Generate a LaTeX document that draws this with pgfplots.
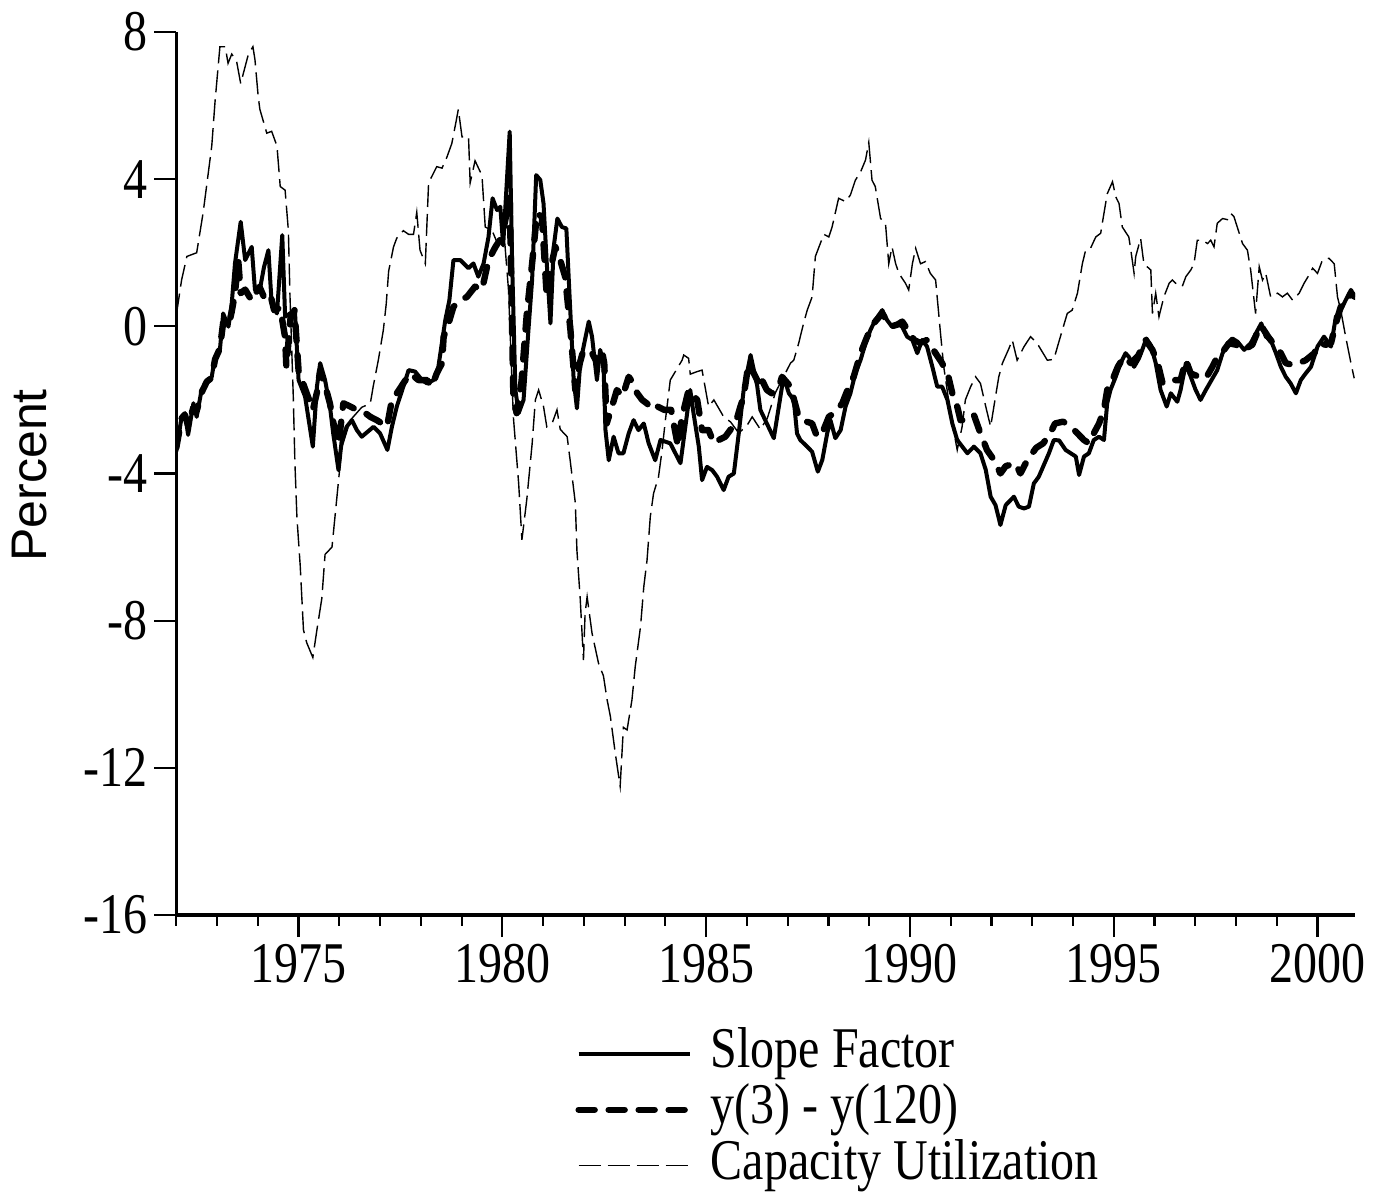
\documentclass[border=0pt]{standalone}
\usepackage{fontspec}
\setmainfont{Liberation Serif}
\newfontfamily\sansf{Liberation Sans}
\usepackage{graphicx}
\usepackage{pgfplots}
\pgfplotsset{compat=1.18}
\newcommand{\vs}[1]{\scalebox{1}[1.2]{#1}}

\begin{document}
\begin{tikzpicture}
\useasboundingbox (-88.15pt,-139.5pt) rectangle (604.35pt,457.5pt);
\begin{axis}[
    width=589.35pt, height=441.5pt, scale only axis,
    xmin=1972, xmax=2000.92, ymin=-16, ymax=8,
    axis lines=left,
    axis line style={-, line width=1.6pt},
    xtick={1975,1980,1985,1990,1995,2000},
    xticklabels={\vs{1975},\vs{1980},\vs{1985},\vs{1990},\vs{1995},\vs{2000}},
    minor xtick={1972,1973,...,2000},
    ytick={-16,-12,-8,-4,0,4,8},
    yticklabels={\vs{-16},\vs{-12},\vs{-8},\vs{-4},\vs{0},\vs{4},\vs{8}},
    tick align=outside,
    major tick length=11pt, minor tick length=5.3pt,
    every tick/.style={black, line width=1.1pt},
    tick label style={font=\fontsize{24}{28}\selectfont},
    ylabel={Percent},
    ylabel style={font=\sansf\fontsize{25}{30}\selectfont, at={(axis description cs:-0.1241,0.498)}, anchor=center},
    legend style={at={(axis description cs:0.3332,-0.1295)}, anchor=north west, draw=none, fill=none,
        font=\fontsize{24}{28}\selectfont, row sep=6pt, column sep=9pt,
        nodes={inner sep=0pt, text height=17pt, text depth=5pt}},
    legend image code/.code={\draw[#1] (0pt,1pt) -- (55.5pt,1pt);},
    legend cell align=left,
]

% Slope Factor
\addplot[black, line width=2pt, line join=round] coordinates {
(1972.00,-3.40) (1972.13,-2.46) (1972.21,-2.36) (1972.29,-2.95) (1972.42,-2.09) (1972.50,-2.46)
(1972.62,-1.73) (1972.75,-1.55) (1972.87,-1.37) (1972.95,-0.83) (1973.07,-0.64) (1973.15,0.35)
(1973.28,-0.01) (1973.36,0.62) (1973.44,1.71) (1973.58,2.84) (1973.69,1.80) (1973.85,2.16)
(1973.93,0.99) (1974.05,1.00) (1974.15,1.60) (1974.26,2.07) (1974.34,0.62) (1974.47,0.35)
(1974.60,2.48) (1974.67,0.26) (1974.91,0.44) (1975.00,-1.46) (1975.16,-1.91) (1975.35,-3.27)
(1975.45,-1.64) (1975.53,-1.00) (1975.65,-1.46) (1975.77,-2.18) (1975.85,-2.91) (1975.98,-3.91)
(1976.06,-3.09) (1976.18,-2.73) (1976.31,-2.55) (1976.43,-2.82) (1976.55,-3.00) (1976.84,-2.73)
(1977.00,-2.91) (1977.18,-3.36) (1977.29,-2.73) (1977.41,-2.18) (1977.57,-1.64) (1977.70,-1.19)
(1977.86,-1.23) (1978.03,-1.46) (1978.15,-1.55) (1978.31,-1.46) (1978.43,-1.10) (1978.60,0.17)
(1978.70,0.71) (1978.80,1.80) (1978.97,1.80) (1979.17,1.58) (1979.29,1.71) (1979.41,1.35)
(1979.54,1.71) (1979.66,2.43) (1979.76,3.48) (1979.87,3.16) (1979.95,3.25) (1980.02,2.20)
(1980.18,5.29) (1980.24,1.71) (1980.32,-1.73) (1980.40,-2.36) (1980.52,-2.00) (1980.64,-0.10)
(1980.73,1.26) (1980.83,4.11) (1980.93,3.98) (1981.01,3.34) (1981.09,1.71) (1981.18,0.08)
(1981.26,2.16) (1981.35,2.93) (1981.46,2.70) (1981.57,2.66) (1981.65,0.80) (1981.75,-1.46)
(1981.83,-2.23) (1981.91,-1.00) (1982.01,-0.46) (1982.12,0.13) (1982.20,-0.28) (1982.32,-1.46)
(1982.40,-0.64) (1982.48,-1.00) (1982.53,-2.82) (1982.61,-3.64) (1982.73,-3.00) (1982.85,-3.45)
(1982.97,-3.45) (1983.10,-2.91) (1983.22,-2.55) (1983.34,-2.82) (1983.47,-2.64) (1983.59,-3.18)
(1983.75,-3.64) (1983.88,-3.09) (1984.12,-3.18) (1984.37,-3.72) (1984.61,-1.73) (1984.69,-2.36)
(1984.82,-3.27) (1984.90,-4.18) (1985.02,-3.82) (1985.15,-3.91) (1985.27,-4.09) (1985.43,-4.45)
(1985.55,-4.09) (1985.68,-4.00) (1985.80,-2.91) (1985.92,-1.73) (1986.09,-0.78) (1986.17,-1.19)
(1986.25,-1.60) (1986.33,-2.27) (1986.45,-2.55) (1986.66,-3.04) (1986.90,-1.37) (1987.03,-1.82)
(1987.15,-2.00) (1987.23,-2.91) (1987.31,-3.09) (1987.48,-3.27) (1987.60,-3.41) (1987.74,-3.95)
(1987.85,-3.63) (1987.97,-2.91) (1988.05,-2.55) (1988.17,-3.04) (1988.30,-2.82) (1988.42,-2.18)
(1988.54,-1.82) (1988.66,-1.28) (1988.79,-0.91) (1988.91,-0.46) (1989.03,-0.10) (1989.15,0.17)
(1989.32,0.44) (1989.44,0.17) (1989.56,-0.01) (1989.69,0.08) (1989.81,-0.01) (1989.93,-0.28)
(1990.06,-0.37) (1990.18,-0.73) (1990.30,-0.37) (1990.42,-0.55) (1990.55,-1.10) (1990.67,-1.64)
(1990.79,-1.64) (1990.92,-2.00) (1991.04,-2.64) (1991.16,-3.09) (1991.41,-3.45) (1991.57,-3.27)
(1991.73,-3.45) (1991.86,-3.90) (1991.98,-4.63) (1992.10,-4.86) (1992.22,-5.40) (1992.35,-4.86)
(1992.55,-4.63) (1992.67,-4.90) (1992.80,-4.95) (1992.92,-4.90) (1993.04,-4.27) (1993.16,-4.09)
(1993.41,-3.45) (1993.53,-3.09) (1993.66,-3.10) (1993.82,-3.36) (1994.07,-3.54) (1994.15,-4.04)
(1994.27,-3.54) (1994.39,-3.45) (1994.51,-3.09) (1994.64,-3.00) (1994.76,-3.09) (1994.84,-2.09)
(1994.92,-1.73) (1995.05,-1.37) (1995.17,-1.00) (1995.29,-0.73) (1995.37,-0.83) (1995.50,-1.10)
(1995.62,-0.87) (1995.70,-0.64) (1995.80,-0.33) (1995.91,-0.51) (1996.03,-1.00) (1996.15,-1.73)
(1996.30,-2.18) (1996.40,-1.82) (1996.56,-2.05) (1996.64,-1.73) (1996.77,-1.00) (1996.89,-1.37)
(1997.01,-1.73) (1997.13,-2.00) (1997.26,-1.73) (1997.54,-1.19) (1997.67,-0.73) (1997.79,-0.46)
(1997.91,-0.33) (1998.04,-0.42) (1998.20,-0.64) (1998.36,-0.46) (1998.62,0.08) (1998.73,-0.28)
(1998.85,-0.37) (1998.98,-0.73) (1999.10,-1.10) (1999.22,-1.37) (1999.34,-1.55) (1999.47,-1.82)
(1999.59,-1.46) (1999.71,-1.28) (1999.84,-1.10) (2000.00,-0.55) (2000.16,-0.28) (2000.33,-0.55)
(2000.45,0.26) (2000.57,0.44) (2000.69,0.71) (2000.82,0.99) (2000.92,0.80)
};
\addlegendentry{\vs{Slope Factor}}

% y(3) - y(120)
\addplot[black, line width=3.2pt, line cap=round, line join=round, dash pattern=on 8pt off 7pt] coordinates {
(1972.00,-3.30) (1972.13,-2.50) (1972.21,-2.40) (1972.29,-2.70) (1972.42,-2.20) (1972.50,-2.30)
(1972.62,-1.80) (1972.75,-1.50) (1972.87,-1.40) (1972.95,-0.90) (1973.07,-0.60) (1973.15,0.10)
(1973.28,0.00) (1973.36,0.40) (1973.44,0.90) (1973.52,1.80) (1973.58,0.90) (1973.69,1.00)
(1973.85,0.70) (1974.04,1.08) (1974.15,0.80) (1974.30,0.90) (1974.40,0.44) (1974.55,0.50)
(1974.67,-0.30) (1974.70,-1.10) (1974.80,0.20) (1974.90,0.44) (1975.00,-1.20) (1975.16,-1.70)
(1975.35,-2.27) (1975.45,-1.80) (1975.53,-1.20) (1975.65,-1.60) (1975.77,-2.10) (1975.85,-2.60)
(1975.98,-3.20) (1976.10,-2.09) (1976.27,-2.18) (1976.43,-2.27) (1976.64,-2.36) (1976.76,-2.46)
(1976.92,-2.55) (1977.17,-2.73) (1977.29,-2.00) (1977.41,-1.82) (1977.60,-1.50) (1977.74,-1.28)
(1977.94,-1.46) (1978.15,-1.46) (1978.27,-1.64) (1978.39,-1.28) (1978.52,-1.00) (1978.56,-0.28)
(1978.68,0.08) (1978.80,0.53) (1978.97,0.71) (1979.13,0.80) (1979.33,1.08) (1979.50,0.99)
(1979.66,1.80) (1979.83,2.16) (1979.99,2.43) (1980.12,3.16) (1980.18,3.50) (1980.27,-1.91)
(1980.35,-2.36) (1980.47,-1.50) (1980.60,0.35) (1980.73,1.71) (1980.85,3.07) (1980.97,2.98)
(1981.09,0.80) (1981.17,1.50) (1981.30,2.16) (1981.42,1.80) (1981.54,1.35) (1981.67,-0.10)
(1981.79,-1.73) (1981.90,-1.00) (1981.99,-0.64) (1982.20,-0.73) (1982.33,-1.00) (1982.44,-0.64)
(1982.50,-1.00) (1982.56,-2.64) (1982.69,-2.18) (1982.81,-1.73) (1982.95,-1.90) (1983.10,-1.37)
(1983.18,-1.50) (1983.31,-1.82) (1983.43,-2.00) (1983.55,-2.10) (1983.68,-2.27) (1983.81,-2.18)
(1983.97,-2.27) (1984.14,-2.27) (1984.31,-3.27) (1984.40,-2.50) (1984.57,-1.73) (1984.78,-2.00)
(1984.90,-2.82) (1985.06,-2.82) (1985.19,-3.18) (1985.31,-3.09) (1985.47,-3.00) (1985.59,-2.82)
(1985.72,-2.64) (1985.84,-2.18) (1985.92,-1.91) (1986.04,-1.00) (1986.17,-1.28) (1986.29,-1.55)
(1986.33,-1.37) (1986.49,-1.73) (1986.61,-1.82) (1986.80,-1.60) (1986.86,-1.37) (1987.07,-1.64)
(1987.27,-2.46) (1987.35,-2.55) (1987.60,-2.64) (1987.72,-3.00) (1987.85,-2.90) (1988.01,-2.46)
(1988.20,-2.30) (1988.34,-2.09) (1988.50,-1.64) (1988.62,-1.37) (1988.79,-0.73) (1988.95,-0.28)
(1989.11,0.08) (1989.32,0.35) (1989.52,-0.01) (1989.70,0.05) (1989.81,0.13) (1989.95,-0.10)
(1990.10,-0.37) (1990.25,-0.45) (1990.42,-0.37) (1990.55,-0.60) (1990.79,-1.00) (1990.95,-1.40)
(1991.04,-1.82) (1991.16,-2.18) (1991.24,-2.55) (1991.41,-2.55) (1991.57,-2.41) (1991.73,-2.91)
(1991.89,-3.36) (1992.06,-3.63) (1992.22,-4.00) (1992.35,-3.80) (1992.59,-3.72) (1992.71,-4.00)
(1992.85,-3.70) (1993.00,-3.45) (1993.10,-3.30) (1993.27,-3.18) (1993.44,-2.91) (1993.56,-2.64)
(1993.76,-2.59) (1993.90,-2.70) (1994.03,-2.82) (1994.27,-3.09) (1994.39,-3.18) (1994.51,-2.91)
(1994.64,-2.64) (1994.76,-2.27) (1994.84,-1.73) (1995.00,-1.37) (1995.10,-1.10) (1995.25,-0.83)
(1995.42,-1.00) (1995.60,-0.80) (1995.78,-0.37) (1995.95,-0.64) (1996.08,-1.00) (1996.20,-1.55)
(1996.30,-1.50) (1996.48,-1.46) (1996.64,-1.46) (1996.77,-0.92) (1996.89,-1.28) (1997.09,-1.37)
(1997.26,-1.41) (1997.42,-1.10) (1997.54,-0.83) (1997.70,-0.65) (1997.83,-0.46) (1998.00,-0.50)
(1998.20,-0.64) (1998.40,-0.50) (1998.60,0.04) (1998.80,-0.30) (1999.10,-0.73) (1999.22,-1.00)
(1999.39,-1.05) (1999.55,-1.00) (1999.71,-0.92) (1999.92,-0.73) (2000.04,-0.46) (2000.20,-0.50)
(2000.33,-0.46) (2000.45,0.08) (2000.57,0.53) (2000.69,0.62) (2000.82,0.89) (2000.92,0.80)
};
\addlegendentry{\vs{y(3) - y(120)}}

% Capacity Utilization
\addplot[black, line width=0.7pt, dash pattern=on 11pt off 3.5pt] coordinates {
(1972.00,0.30) (1972.13,1.26) (1972.26,1.90) (1972.50,2.00) (1972.66,3.10) (1972.87,4.90)
(1972.95,6.10) (1973.07,7.60) (1973.20,7.60) (1973.27,7.15) (1973.36,7.40) (1973.48,7.20)
(1973.58,6.60) (1973.77,7.40) (1973.88,7.60) (1973.93,7.25) (1974.01,6.24) (1974.05,5.90)
(1974.22,5.25) (1974.34,5.30) (1974.47,4.90) (1974.55,3.80) (1974.67,3.70) (1974.75,2.60)
(1974.79,0.80) (1974.87,-1.90) (1974.91,-3.70) (1974.96,-5.20) (1975.04,-6.50) (1975.12,-8.25)
(1975.20,-8.60) (1975.35,-9.00) (1975.45,-8.25) (1975.57,-7.40) (1975.65,-6.20) (1975.82,-6.00)
(1975.90,-5.10) (1975.98,-4.20) (1976.06,-3.30) (1976.27,-2.55) (1976.55,-2.20) (1976.76,-2.10)
(1976.83,-1.64) (1976.96,-0.90) (1977.08,-0.10) (1977.15,0.60) (1977.21,1.50) (1977.33,2.16)
(1977.41,2.40) (1977.57,2.60) (1977.70,2.50) (1977.82,2.50) (1977.90,3.10) (1977.98,2.07)
(1978.11,1.70) (1978.19,3.90) (1978.39,4.34) (1978.52,4.30) (1978.64,4.60) (1978.76,4.97)
(1978.87,5.60) (1978.92,5.90) (1979.01,5.15) (1979.17,5.15) (1979.21,3.90) (1979.33,4.50)
(1979.50,4.10) (1979.58,2.70) (1979.75,2.60) (1979.90,2.20) (1980.05,2.40) (1980.15,1.00)
(1980.27,-2.46) (1980.40,-4.27) (1980.48,-5.80) (1980.60,-4.70) (1980.73,-3.20) (1980.81,-2.00)
(1980.89,-1.73) (1981.01,-2.18) (1981.09,-2.73) (1981.22,-2.64) (1981.34,-2.27) (1981.42,-2.80)
(1981.59,-3.00) (1981.67,-3.70) (1981.79,-4.80) (1981.83,-6.10) (1981.91,-7.40) (1981.99,-9.07)
(1982.03,-7.80) (1982.08,-7.35) (1982.20,-8.34) (1982.36,-9.16) (1982.48,-9.50) (1982.57,-10.15)
(1982.65,-10.60) (1982.77,-11.60) (1982.89,-12.50) (1982.97,-10.90) (1983.06,-10.97) (1983.18,-10.15)
(1983.26,-9.25) (1983.39,-8.16) (1983.47,-7.08) (1983.55,-6.35) (1983.63,-5.17) (1983.71,-4.54)
(1983.83,-4.10) (1983.92,-3.36) (1984.00,-2.55) (1984.12,-1.46) (1984.41,-0.92) (1984.45,-0.78)
(1984.57,-0.87) (1984.61,-1.30) (1984.78,-1.23) (1984.90,-1.19) (1985.06,-2.18) (1985.19,-2.00)
(1985.43,-2.46) (1985.60,-2.60) (1985.80,-2.90) (1986.00,-2.70) (1986.13,-2.46) (1986.33,-2.80)
(1986.50,-2.50) (1986.70,-1.80) (1987.07,-1.00) (1987.15,-0.92) (1987.27,-0.46) (1987.39,0.08)
(1987.48,0.44) (1987.60,0.80) (1987.68,1.90) (1987.80,2.25) (1987.89,2.50) (1988.01,2.43)
(1988.09,2.70) (1988.25,3.48) (1988.42,3.39) (1988.54,3.57) (1988.66,3.97) (1988.79,4.20)
(1988.91,4.52) (1988.99,5.00) (1989.07,3.97) (1989.15,3.80) (1989.28,2.93) (1989.40,2.80)
(1989.48,1.70) (1989.56,2.16) (1989.65,1.70) (1989.73,1.44) (1989.89,1.17) (1989.97,0.99)
(1990.06,1.70) (1990.14,2.12) (1990.26,1.70) (1990.38,1.76) (1990.50,1.44) (1990.63,1.26)
(1990.75,-0.19) (1990.83,-1.10) (1991.00,-2.40) (1991.16,-3.36) (1991.28,-2.73) (1991.36,-2.00)
(1991.49,-1.64) (1991.61,-1.37) (1991.73,-1.55) (1991.86,-2.18) (1991.98,-2.73) (1992.06,-2.18)
(1992.18,-1.37) (1992.27,-1.00) (1992.43,-0.60) (1992.51,-0.37) (1992.63,-0.92) (1992.80,-0.55)
(1992.96,-0.28) (1993.12,-0.46) (1993.37,-0.92) (1993.53,-0.90) (1993.66,-0.40) (1993.86,0.35)
(1993.98,0.44) (1994.11,0.90) (1994.23,1.70) (1994.31,2.07) (1994.43,2.12) (1994.56,2.43)
(1994.68,2.53) (1994.76,3.07) (1994.84,3.60) (1994.97,3.93) (1995.05,3.52) (1995.13,3.34)
(1995.21,2.70) (1995.37,2.43) (1995.42,2.07) (1995.50,1.44) (1995.54,1.90) (1995.66,2.39)
(1995.74,1.70) (1995.91,1.53) (1995.95,0.35) (1996.03,0.90) (1996.11,0.26) (1996.23,0.80)
(1996.36,1.17) (1996.44,1.26) (1996.52,1.17) (1996.68,1.08) (1996.77,1.35) (1996.89,1.53)
(1996.97,1.70) (1997.05,2.34) (1997.18,2.34) (1997.30,2.25) (1997.38,2.34) (1997.46,2.16)
(1997.54,2.80) (1997.67,2.93) (1997.79,2.90) (1997.87,3.07) (1997.95,2.98) (1998.16,2.25)
(1998.28,2.07) (1998.36,1.53) (1998.48,0.35) (1998.57,1.62) (1998.65,1.26) (1998.73,1.44)
(1998.85,0.80) (1999.02,0.90) (1999.14,0.80) (1999.26,0.90) (1999.39,0.71) (1999.55,0.90)
(1999.67,1.17) (1999.79,1.39) (1999.88,1.58) (2000.00,1.44) (2000.12,1.80) (2000.28,1.85)
(2000.41,1.70) (2000.49,0.80) (2000.57,0.44) (2000.69,-0.28) (2000.82,-1.00) (2000.90,-1.41)
};
\addlegendentry{\vs{Capacity Utilization}}

\end{axis}
\end{tikzpicture}
\end{document}
